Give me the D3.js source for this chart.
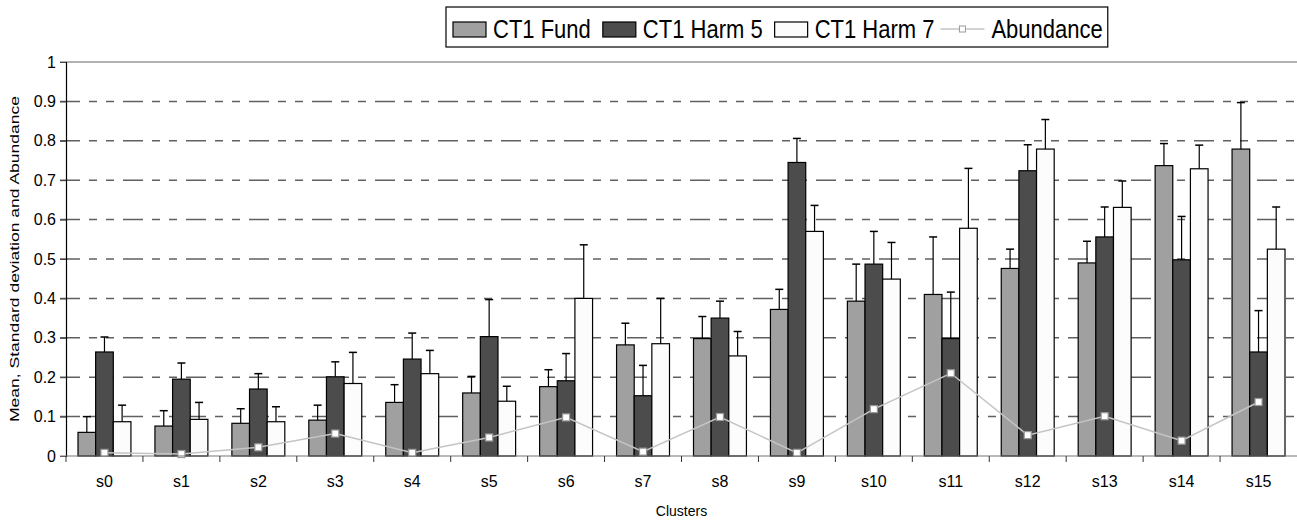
<!DOCTYPE html>
<html>
<head>
<meta charset="utf-8">
<script src="https://cdn.jsdelivr.net/npm/d3@7"></script>
<style>
  body { margin: 0; background: #fff; }
  text { font-family: "Liberation Sans", Arial, sans-serif; fill: #000; }
</style>
</head>
<body>
<script>
const clusters = ["s0","s1","s2","s3","s4","s5","s6","s7","s8","s9","s10","s11","s12","s13","s14","s15"];
const seriesNames = ["CT1 Fund", "CT1 Harm 5", "CT1 Harm 7"];
const fund   = [0.060,0.076,0.083,0.091,0.136,0.160,0.176,0.282,0.298,0.372,0.393,0.410,0.476,0.490,0.737,0.779];
const fundSd = [0.040,0.039,0.037,0.038,0.045,0.042,0.043,0.055,0.056,0.051,0.094,0.146,0.049,0.055,0.056,0.118];
const harm5   = [0.264,0.195,0.170,0.201,0.246,0.303,0.191,0.153,0.350,0.745,0.487,0.298,0.724,0.556,0.498,0.264];
const harm5Sd = [0.038,0.041,0.039,0.038,0.066,0.094,0.069,0.077,0.043,0.061,0.083,0.118,0.066,0.076,0.110,0.105];
const harm7   = [0.087,0.093,0.087,0.184,0.209,0.139,0.400,0.285,0.254,0.570,0.449,0.578,0.779,0.631,0.729,0.525];
const harm7Sd = [0.042,0.043,0.038,0.079,0.059,0.038,0.136,0.115,0.062,0.066,0.093,0.152,0.075,0.067,0.060,0.107];
const abundance = [0.008,0.005,0.022,0.057,0.008,0.047,0.098,0.011,0.099,0.008,0.119,0.210,0.053,0.101,0.039,0.137];
const yTicks = [0,0.1,0.2,0.3,0.4,0.5,0.6,0.7,0.8,0.9,1];

const width = 1297, height = 520;
const plotLeft = 66, plotRight = 1297, plotTop = 62, plotBottom = 456;
const colors = ["#a0a0a0", "#4c4c4c", "#fcfcfc"];

const means = [fund, harm5, harm7];
const sds = [fundSd, harm5Sd, harm7Sd];

const svg = d3.select("body").append("svg")
    .attr("width", width)
    .attr("height", height);

const x0 = d3.scaleBand().domain(clusters).range([plotLeft, plotRight]);
const x1 = d3.scaleBand().domain(seriesNames).range([0, x0.bandwidth()]).paddingOuter(0.68);
const y = d3.scaleLinear().domain([0, 1]).range([plotBottom, plotTop]);

// gridlines
svg.append("g").selectAll("line")
    .data(yTicks.filter(d => d > 0))
    .enter().append("line")
    .attr("x1", plotLeft - 6).attr("x2", plotRight)
    .attr("y1", d => y(d)).attr("y2", d => y(d))
    .attr("stroke", d => d === 1 ? "#9a9a9a" : "#606060")
    .attr("stroke-width", 1.5)
    .attr("stroke-dasharray", d => d === 1 ? null : "20,9,8,9,8,9");

// bars
const groups = svg.append("g").selectAll("g")
    .data(clusters)
    .enter().append("g")
    .attr("transform", d => `translate(${x0(d)},0)`);

seriesNames.forEach((s, k) => {
    groups.append("rect")
        .attr("x", x1(s))
        .attr("y", (d, i) => y(means[k][i]))
        .attr("width", x1.bandwidth())
        .attr("height", (d, i) => y(0) - y(means[k][i]))
        .attr("fill", colors[k])
        .attr("stroke", "#000")
        .attr("stroke-width", 1.2);

    // error bars (upper only)
    groups.append("line")
        .attr("x1", x1(s) + x1.bandwidth() / 2)
        .attr("x2", x1(s) + x1.bandwidth() / 2)
        .attr("y1", (d, i) => y(means[k][i]))
        .attr("y2", (d, i) => y(means[k][i] + sds[k][i]))
        .attr("stroke", "#000").attr("stroke-width", 1.2);
    groups.append("line")
        .attr("x1", x1(s) + x1.bandwidth() / 2 - 4)
        .attr("x2", x1(s) + x1.bandwidth() / 2 + 4)
        .attr("y1", (d, i) => y(means[k][i] + sds[k][i]))
        .attr("y2", (d, i) => y(means[k][i] + sds[k][i]))
        .attr("stroke", "#000").attr("stroke-width", 1.5);
});

// abundance line
const cx = (d, i) => x0(clusters[i]) + x0.bandwidth() / 2;
svg.append("path")
    .datum(abundance)
    .attr("fill", "none")
    .attr("stroke", "#c4c4c4")
    .attr("stroke-width", 1.5)
    .attr("d", d3.line().x(cx).y(d => y(d)));

svg.append("g").selectAll("rect")
    .data(abundance)
    .enter().append("rect")
    .attr("x", (d, i) => cx(d, i) - 3.5)
    .attr("y", d => y(d) - 3.5)
    .attr("width", 7).attr("height", 7)
    .attr("fill", "#fff")
    .attr("stroke", "#9a9a9a")
    .attr("stroke-width", 1.2);

// y axis
const yAxis = d3.axisLeft(y)
    .tickValues(yTicks)
    .tickFormat(d => String(d))
    .tickSize(6)
    .tickPadding(4);
const gy = svg.append("g")
    .attr("transform", `translate(${plotLeft},0)`)
    .call(yAxis);
gy.select(".domain").attr("stroke", "#000").attr("stroke-width", 1.2);
gy.selectAll(".tick line").attr("stroke", "#444");
gy.selectAll("text").style("font-size", "16px").style("font-family", "Liberation Sans, Arial, sans-serif");

// x axis
svg.append("line")
    .attr("x1", plotLeft - 6).attr("x2", plotRight)
    .attr("y1", plotBottom).attr("y2", plotBottom)
    .attr("stroke", "#777").attr("stroke-width", 1.2);
svg.append("g").selectAll("line")
    .data(clusters)
    .enter().append("line")
    .attr("x1", d => x0(d)).attr("x2", d => x0(d))
    .attr("y1", plotBottom).attr("y2", plotBottom + 6)
    .attr("stroke", "#333");

const xAxis = d3.axisBottom(x0).tickSize(0).tickPadding(20);
const gx = svg.append("g")
    .attr("transform", `translate(0,${plotBottom})`)
    .call(xAxis);
gx.select(".domain").remove();
gx.selectAll("text").style("font-size", "16px").style("font-family", "Liberation Sans, Arial, sans-serif");

// axis titles
svg.append("text")
    .attr("x", (plotLeft + plotRight) / 2)
    .attr("y", 516)
    .attr("text-anchor", "middle")
    .style("font-size", "14px")
    .text("Clusters");

svg.append("text")
    .attr("transform", `translate(19,${(plotTop + plotBottom) / 2}) rotate(-90)`)
    .attr("text-anchor", "middle")
    .attr("textLength", 326)
    .attr("lengthAdjust", "spacingAndGlyphs")
    .style("font-size", "13px")
    .text("Mean, Standard deviation and Abundance");

// legend
const legend = svg.append("g");
let lx = 453;
const ly = 37;
const legendItems = seriesNames.concat(["Abundance"]);
legendItems.forEach((name, k) => {
    if (k < 3) {
        legend.append("rect")
            .attr("x", lx).attr("y", ly - 15)
            .attr("width", 33).attr("height", 15)
            .attr("fill", colors[k])
            .attr("stroke", "#000").attr("stroke-width", 1.2);
        lx += 40;
    } else {
        legend.append("line")
            .attr("x1", lx - 6).attr("x2", lx + 38)
            .attr("y1", ly - 8).attr("y2", ly - 8)
            .attr("stroke", "#c4c4c4").attr("stroke-width", 1.5);
        legend.append("rect")
            .attr("x", lx + 13).attr("y", ly - 11)
            .attr("width", 6).attr("height", 6)
            .attr("fill", "#fff").attr("stroke", "#9a9a9a");
        lx += 45;
    }
    const t = legend.append("text")
        .attr("x", lx).attr("y", ly + 1)
        .style("font-size", "25px")
        .text(name);
    const w = t.node().getComputedTextLength() * 0.88;
    t.attr("textLength", w).attr("lengthAdjust", "spacingAndGlyphs");
    lx += w + 12;
});
legend.insert("rect", ":first-child")
    .attr("x", 446).attr("y", 7)
    .attr("width", lx - 12 + 5 - 446).attr("height", 40)
    .attr("fill", "#fff")
    .attr("stroke", "#000").attr("stroke-width", 1.2);
</script>
</body>
</html>
